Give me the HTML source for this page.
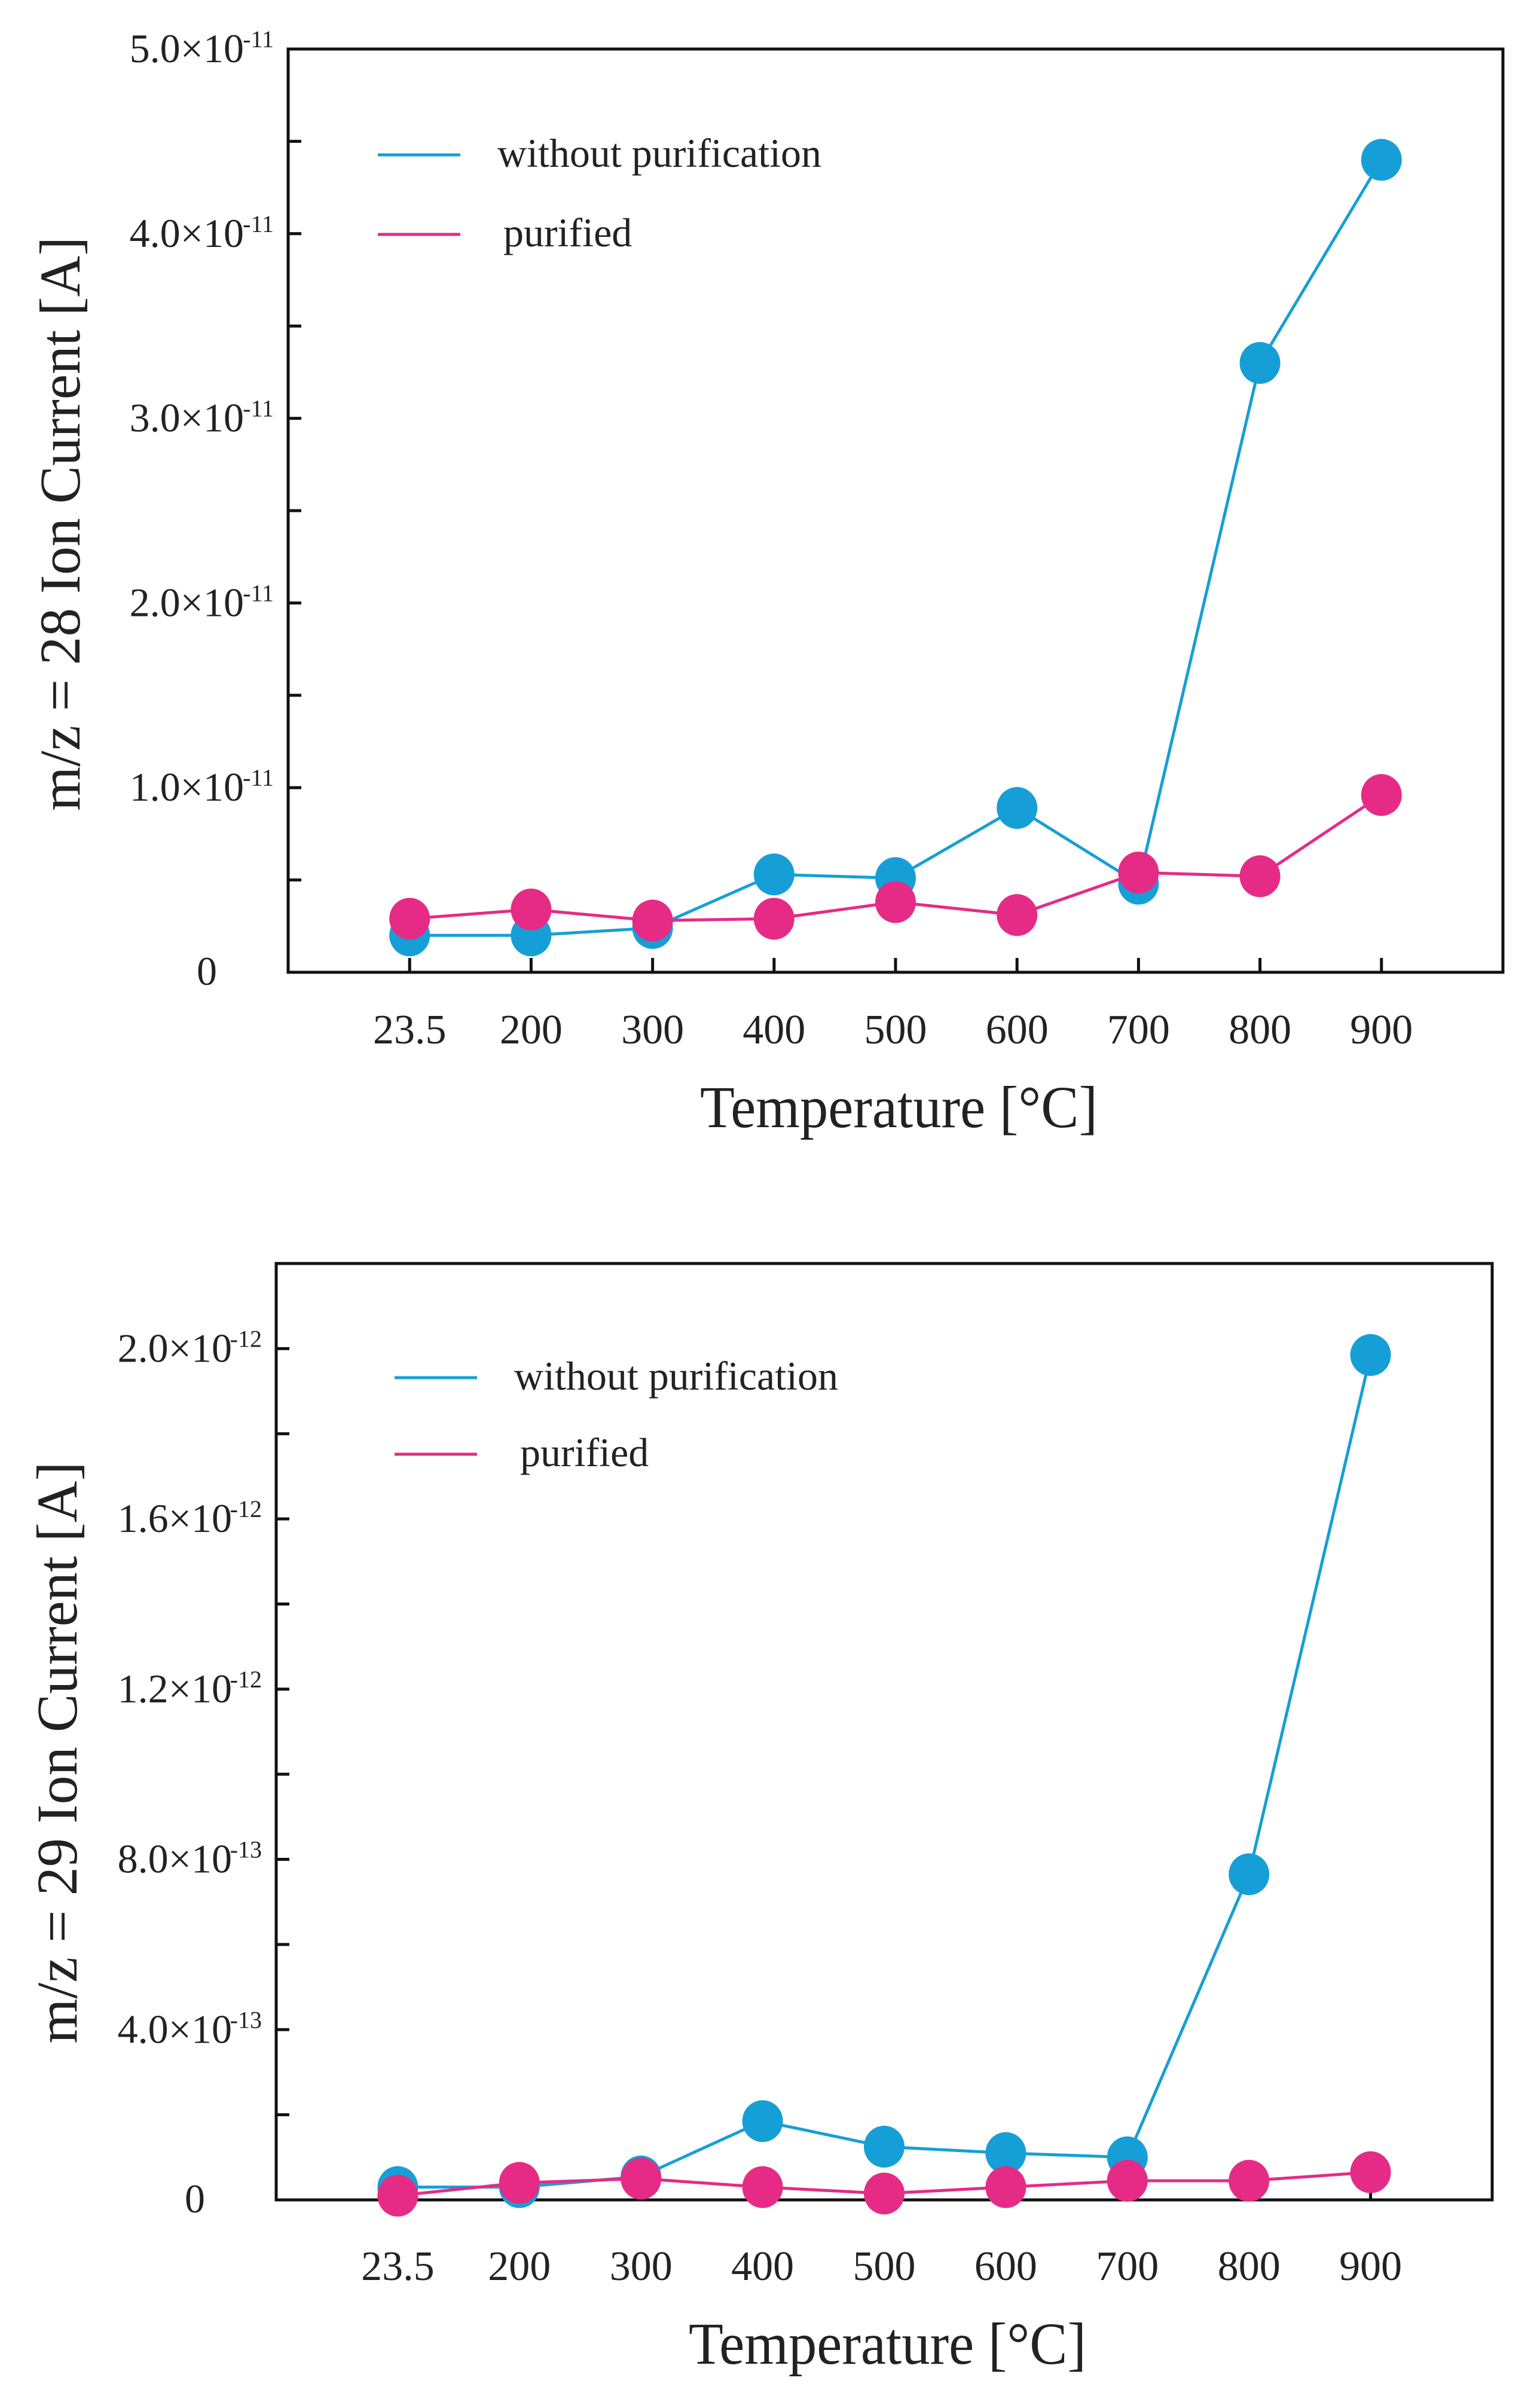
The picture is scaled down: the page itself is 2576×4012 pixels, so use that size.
<!DOCTYPE html>
<html><head><meta charset="utf-8"><style>
html,body{margin:0;padding:0;background:#fff;}
svg{display:block;}
text{font-family:"Liberation Serif",serif;fill:#222;}
</style></head><body>
<svg id="svg" width="2576" height="4012" viewBox="0 0 2576 4012" xmlns="http://www.w3.org/2000/svg"></svg>
<script>
const categories = ["23.5","200","300","400","500","600","700","800","900"];
// chart 1 values in units of 1e-12 A
const c1Without = [2.0,2.0,2.4,5.3,5.1,8.9,4.8,33.0,44.0];
const c1Purified = [2.9,3.4,2.8,2.9,3.8,3.1,5.4,5.2,9.6];
const c1TickVals = [0,10,20,30,40,50];
const c1TickLabels = [["0",""],["1.0×10","-11"],["2.0×10","-11"],["3.0×10","-11"],["4.0×10","-11"],["5.0×10","-11"]];
// chart 2 values in units of 1e-13 A
const c2Without = [0.3,0.3,0.55,1.85,1.25,1.1,1.0,7.65,19.85];
const c2Purified = [0.1,0.4,0.5,0.3,0.15,0.3,0.45,0.45,0.65];
const c2TickVals = [0,4,8,12,16,20];
const c2TickLabels = [["0",""],["4.0×10","-13"],["8.0×10","-13"],["1.2×10","-12"],["1.6×10","-12"],["2.0×10","-12"]];

const NS="http://www.w3.org/2000/svg";
const svg=document.getElementById('svg');
function mk(tag,attrs,parent){const e=document.createElementNS(NS,tag);for(const k in attrs)e.setAttribute(k,attrs[k]);(parent||svg).appendChild(e);return e;}
const BLUE="#169fd6", PINK="#e52b86";

function chart(cfg){
  const g=mk('g',{});
  
  
  const L=cfg.left,R=cfg.right,T=cfg.top,B=cfg.bottom;
  const xs=i=>L+(R-L)*(i+1)/10;
  const ys=v=>B-(B-T)*(v-cfg.ymin)/(cfg.ymax-cfg.ymin);
  const frame=mk('rect',{x:L,y:T,width:R-L,height:B-T,fill:'none',stroke:'#111','stroke-width':5},g);
  
  
  for(let v=cfg.ymin; v<=cfg.ymax+1e-9; v+=cfg.minor){
    const t=mk('line',{x1:L,x2:L+22,y1:ys(v),y2:ys(v),stroke:'#111','stroke-width':5},g);
    
    
  }
  cfg.tickVals.forEach((v,i)=>{
    const lab=cfg.tickLabels[i];
    const t=mk('text',{y:ys(v)+22,'text-anchor':'end','font-size':68},g);
    
    
    t.textContent=lab[0];
    if(lab[1]){
      t.setAttribute('x',L-74);
      const s=mk('text',{x:L-24,y:ys(v)-3,'text-anchor':'end','font-size':40},g);
      s.textContent=lab[1];
      
      
    } else { t.setAttribute('x',L-119); t.setAttribute('y',B+21); }
  });
  categories.forEach((c,i)=>{
    const t=mk('line',{x1:xs(i),x2:xs(i),y1:B,y2:B-24,stroke:'#111','stroke-width':5},g);
    
    
    const l=mk('text',{x:xs(i),y:B+cfg.xlab,'text-anchor':'middle','font-size':70},g);
    l.textContent=c;
    
    
  });
  const xt=mk('text',{x:(L+R)/2+5-332,y:B+cfg.xtit,'font-size':100,textLength:665,lengthAdjust:'spacingAndGlyphs'},g);
  xt.textContent='Temperature [°C]';
  
  
  const yt=mk('text',{x:-cfg.ylen/2,y:0,'font-size':96,textLength:cfg.ylen,lengthAdjust:'spacingAndGlyphs',transform:`translate(${cfg.ytx},${cfg.yty}) rotate(-90)`},g);
  yt.textContent=cfg.ytitle;
  
  
  [[cfg.without,BLUE,'series-without-purification'],[cfg.purified,PINK,'series-purified']].forEach(([vals,col,nm])=>{
    const sg=mk('g',{},g);
    
    
    const p=mk('polyline',{points:vals.map((v,i)=>xs(i)+','+ys(v)).join(' '),fill:'none',stroke:col,'stroke-width':5},sg);
    
    
    vals.forEach((v,i)=>{
      const c=mk('ellipse',{cx:xs(i),cy:ys(v),rx:34,ry:35,fill:col},sg);
      
      
    });
  });
  [[BLUE,'without purification',cfg.leg1,0],[PINK,'purified',cfg.leg2,10]].forEach(([col,txt,y,dx])=>{
    const lg=mk('g',{},g);
    
    
    mk('line',{x1:cfg.legx,x2:cfg.legx+138,y1:y,y2:y,stroke:col,'stroke-width':5},lg);
    const t=mk('text',{x:cfg.legx+200+dx,y:y+20,'font-size':68},lg);
    t.textContent=txt;
  });
}
chart({name:'chart-mz28',left:482,right:2514,top:82,bottom:1626,ymin:0,ymax:50,minor:5,
  tickVals:c1TickVals,tickLabels:c1TickLabels,without:c1Without,purified:c1Purified,
  xlab:119,xtit:259,
  ytitle:'m/z = 28 Ion Current [A]',ytx:133,yty:876,ylen:960,legx:632,leg1:259,leg2:392});
chart({name:'chart-mz29',left:462,right:2496,top:2113,bottom:3679,ymin:0,ymax:22,minor:2,
  tickVals:c2TickVals,tickLabels:c2TickLabels,without:c2Without,purified:c2Purified,
  xlab:134,xtit:274,
  ytitle:'m/z = 29 Ion Current [A]',ytx:128,yty:2931,ylen:973,legx:660,leg1:2304,leg2:2432});
</script>
</body></html>
